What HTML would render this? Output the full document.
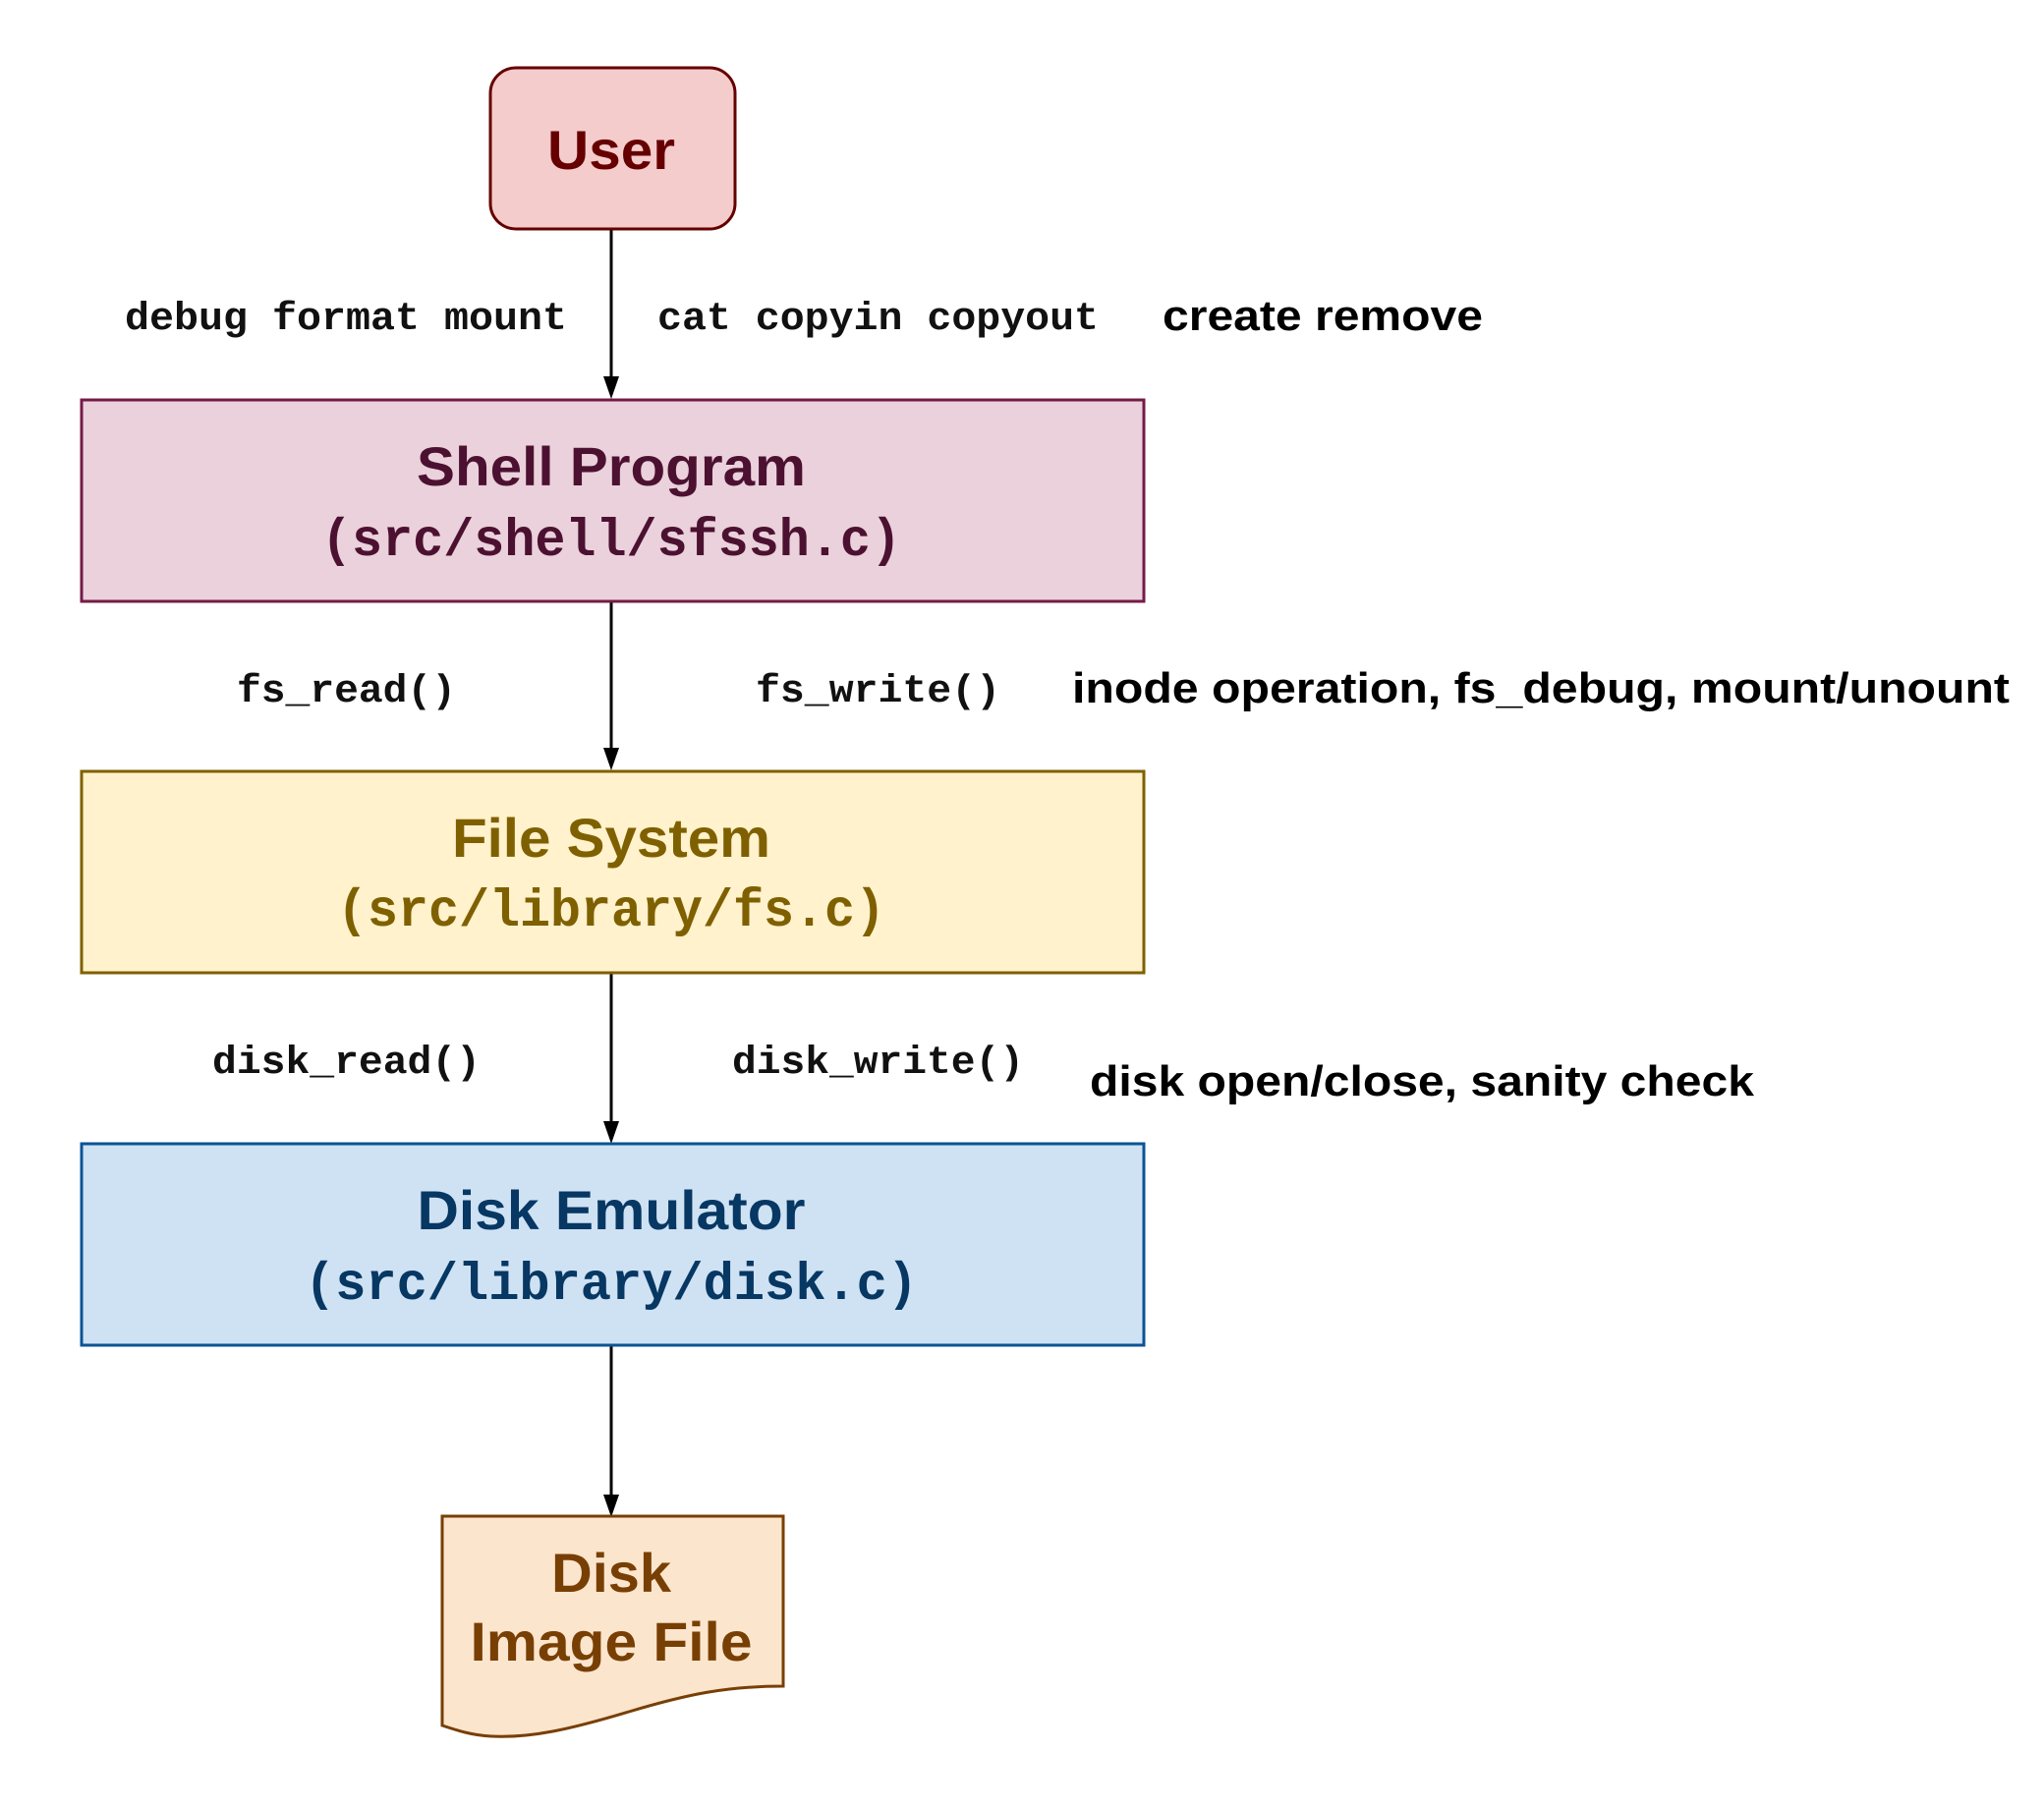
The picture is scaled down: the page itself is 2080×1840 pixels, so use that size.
<!DOCTYPE html>
<html><head><meta charset="utf-8"><style>html,body{margin:0;padding:0;background:#fff}svg{display:block}</style></head>
<body>
<svg width="2080" height="1840" viewBox="0 0 2080 1840" xmlns="http://www.w3.org/2000/svg">
<g stroke="#000" stroke-width="3">
<line x1="622" y1="233" x2="622" y2="385"/>
<line x1="622" y1="612" x2="622" y2="763"/>
<line x1="622" y1="990" x2="622" y2="1143"/>
<line x1="622" y1="1369" x2="622" y2="1523"/>
</g>
<g fill="#000">
<path d="M614,383 L630,383 L622,406 Z"/>
<path d="M614,761 L630,761 L622,784 Z"/>
<path d="M614,1141 L630,1141 L622,1164 Z"/>
<path d="M614,1521 L630,1521 L622,1544 Z"/>
</g>
<rect x="499" y="69" width="249" height="164" rx="26" fill="#f4cccc" stroke="#660000" stroke-width="3"/>
<rect x="83" y="407" width="1081" height="205" fill="#ead1dc" stroke="#741b47" stroke-width="3"/>
<rect x="83" y="785" width="1081" height="205" fill="#fff2cc" stroke="#7f6000" stroke-width="3"/>
<rect x="83" y="1164" width="1081" height="205" fill="#cfe2f3" stroke="#0b5394" stroke-width="3"/>
<path d="M450,1543 L797,1543 L797,1716 C740,1716 700,1724 640,1742 C580,1760 540,1769 500,1767 C480,1766 465,1761 450,1756 Z" fill="#fce5cd" stroke="#783f04" stroke-width="3"/>
<g font-family="Liberation Sans, sans-serif" font-weight="bold" text-anchor="middle" font-size="56">
<text x="622" y="172" fill="#660000" textLength="130" lengthAdjust="spacingAndGlyphs">User</text>
<text x="622" y="494" fill="#4c1130" textLength="396" lengthAdjust="spacingAndGlyphs">Shell Program</text>
<text x="622" y="872" fill="#7f6000" textLength="324" lengthAdjust="spacingAndGlyphs">File System</text>
<text x="622" y="1251" fill="#073763" textLength="395" lengthAdjust="spacingAndGlyphs">Disk Emulator</text>
<text x="622" y="1620" fill="#783f04" textLength="122" lengthAdjust="spacingAndGlyphs">Disk</text>
<text x="622" y="1690" fill="#783f04" textLength="287" lengthAdjust="spacingAndGlyphs">Image File</text>
</g>
<g font-family="Liberation Mono, monospace" font-weight="bold" text-anchor="middle" font-size="54">
<text x="622" y="565" fill="#4c1130" textLength="590" lengthAdjust="spacingAndGlyphs">(src/shell/sfssh.c)</text>
<text x="622" y="942" fill="#7f6000" textLength="558" lengthAdjust="spacingAndGlyphs">(src/library/fs.c)</text>
<text x="622" y="1322" fill="#073763" textLength="624" lengthAdjust="spacingAndGlyphs">(src/library/disk.c)</text>
</g>
<g font-family="Liberation Mono, monospace" font-weight="bold" font-size="40" fill="#111">
<text x="127" y="335" textLength="450" lengthAdjust="spacingAndGlyphs">debug format mount</text>
<text x="669" y="335" textLength="449" lengthAdjust="spacingAndGlyphs">cat copyin copyout</text>
<text x="241" y="714" textLength="223" lengthAdjust="spacingAndGlyphs">fs_read()</text>
<text x="769" y="714" textLength="249" lengthAdjust="spacingAndGlyphs">fs_write()</text>
<text x="216" y="1092" textLength="273" lengthAdjust="spacingAndGlyphs">disk_read()</text>
<text x="745" y="1092" textLength="297" lengthAdjust="spacingAndGlyphs">disk_write()</text>
</g>
<g font-family="Liberation Sans, sans-serif" font-weight="bold" font-size="44" fill="#000">
<text x="1183" y="336" textLength="326" lengthAdjust="spacingAndGlyphs">create remove</text>
<text x="1091" y="715" textLength="954" lengthAdjust="spacingAndGlyphs">inode operation, fs_debug, mount/unount</text>
<text x="1109" y="1115" textLength="676" lengthAdjust="spacingAndGlyphs">disk open/close, sanity check</text>
</g>
</svg>
</body></html>
